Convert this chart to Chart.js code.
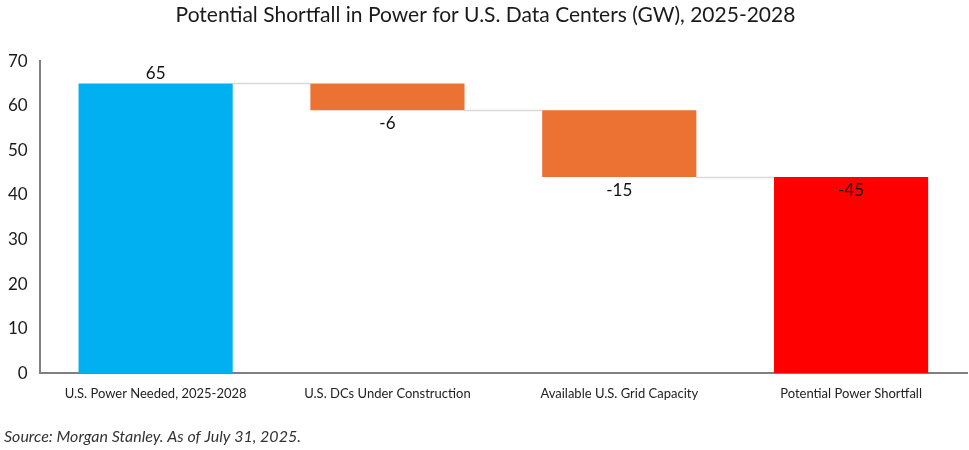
<!DOCTYPE html>
<html>
<head>
<meta charset="utf-8">
<script src="https://cdn.jsdelivr.net/npm/chart.js@4.4.1/dist/chart.umd.min.js"></script>
<style>
  html, body { margin: 0; padding: 0; background: #fff; }
  #wrap { width: 969px; height: 450px; position: relative; }
</style>
</head>
<body>
<div id="wrap"><canvas id="myChart"></canvas></div>
<script>
var categories = ["U.S. Power Needed, 2025-2028", "U.S. DCs Under Construction", "Available U.S. Grid Capacity", "Potential Power Shortfall"];
var steps = [65, -6, -15];
var valueLabels = ["65", "-6", "-15", "-45"];
var barColors = ["#00B0F0", "#EB7233", "#EB7233", "#FF0000"];
var yTicks = [0, 10, 20, 30, 40, 50, 60, 70];

// floating bars: running total for the steps, last bar from zero to the total
var ranges = [];
var total = 0;
steps.forEach(function (v, i) {
    var start = total;
    total += v;
    ranges.push(i === 0 ? [0, total] : [Math.min(start, total), Math.max(start, total)]);
});
ranges.push([0, total]);

var connectors = {
    id: 'connectors',
    beforeDatasetsDraw: function (chart) {
        var c = chart.ctx, meta = chart.getDatasetMeta(0), y = chart.scales.y;
        var level = 0;
        c.save();
        c.strokeStyle = '#d9d9d9';
        c.lineWidth = 1.5;
        for (var i = 0; i < meta.data.length - 1; i++) {
            level += (i < steps.length ? steps[i] : 0);
            var a = meta.data[i], b = meta.data[i + 1];
            var yy = Math.round(y.getPixelForValue(level)) + 0.5;
            c.beginPath();
            c.moveTo(a.x + a.width / 2, yy);
            c.lineTo(b.x - b.width / 2, yy);
            c.stroke();
        }
        c.restore();
    }
};

var valueText = {
    id: 'valueText',
    afterDatasetsDraw: function (chart) {
        var c = chart.ctx, meta = chart.getDatasetMeta(0), y = chart.scales.y;
        c.save();
        c.font = '17px Lato';
        c.fillStyle = '#111';
        c.textAlign = 'center';
        meta.data.forEach(function (bar, i) {
            var r = ranges[i];
            if (i === 0) {
                c.textBaseline = 'bottom';
                c.fillText(valueLabels[i], bar.x, y.getPixelForValue(r[1]) - 1);
            } else {
                c.textBaseline = 'top';
                c.fillText(valueLabels[i], bar.x, y.getPixelForValue(r[i === 3 ? 1 : 0]) + 5);
            }
        });
        c.restore();
    }
};

var ctx = document.getElementById("myChart");
var myChart = new Chart(ctx, {
    type: 'bar',
    data: {
        labels: categories,
        datasets: [
            {
                data: ranges,
                backgroundColor: barColors,
                borderWidth: 0,
                barPercentage: 0.665,
                categoryPercentage: 1
            }
        ]
    },
    options: {
        responsive: true,
        maintainAspectRatio: false,
        animation: false,
        layout: { padding: { left: 4, right: 2, top: 3, bottom: 4 } },
        plugins: {
            legend: { display: false },
            tooltip: { enabled: false },
            title: {
                display: true,
                text: 'Potential Shortfall in Power for U.S. Data Centers (GW), 2025-2028',
                color: '#1a1a1a',
                font: { family: 'Lato', size: 21, weight: 'normal' },
                padding: { top: 0, bottom: 33 }
            },
            subtitle: {
                display: true,
                position: 'bottom',
                align: 'start',
                text: 'Source: Morgan Stanley. As of July 31, 2025.',
                color: '#333',
                font: { family: 'Lato', size: 16, style: 'italic' },
                padding: { top: 20, bottom: 0 }
            }
        },
        scales: {
            x: {
                grid: { display: false },
                border: { display: true, color: '#808080', width: 2 },
                ticks: {
                    color: '#222',
                    font: { family: 'Lato', size: 13 },
                    maxRotation: 0,
                    padding: 5
                }
            },
            y: {
                min: 0,
                max: 70,
                grid: { display: false },
                border: { display: true, color: '#808080', width: 2 },
                afterBuildTicks: function (axis) {
                    axis.ticks = yTicks.map(function (v) { return { value: v }; });
                },
                ticks: {
                    color: '#1a1a1a',
                    font: { family: 'Lato', size: 17 },
                    padding: 4
                }
            }
        }
    },
    plugins: [connectors, valueText]
});
</script>
</body>
</html>
